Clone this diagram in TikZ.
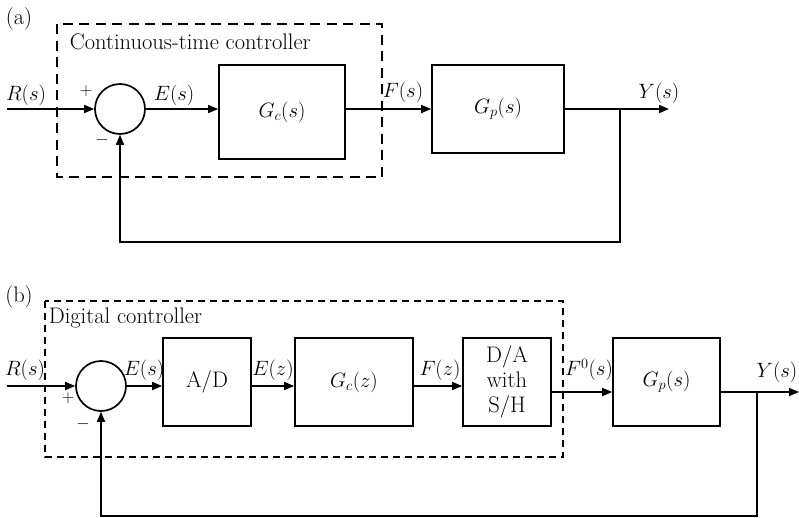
\documentclass[tikz,border=0pt]{standalone}
\usetikzlibrary{arrows.meta}
\begin{document}
\begin{tikzpicture}[x=1pt,y=-1pt,
  line width=1.7pt,
  >={Triangle[length=10pt,width=8pt]},
  every node/.style={font=\fontsize{20}{25}\selectfont, inner sep=0pt},
  txt/.style={font=\fontsize{22.5}{25}\selectfont},
  blk/.style={draw, line width=1.7pt, inner sep=0pt},
  sumc/.style={draw, circle, minimum size=50pt, inner sep=0pt},
  sgn/.style={font=\fontsize{16}{18}\selectfont},
  dashboxA/.style={draw, line width=1.9pt, dash pattern=on 10pt off 6.5pt},
  dashboxB/.style={draw, line width=1.6pt, dash pattern=on 7pt off 5pt},
  conn/.style={->}
]
\useasboundingbox (0,0) rectangle (799,517);

% ---------------- (a) ----------------
\node[txt] (tagA) at (19,19) {(a)};
\draw[dashboxA] (57,24) rectangle (382,177);
\node[txt, anchor=west] (ctA) at (69,42) {Continuous-time controller};

\coordinate (ra) at (7,109);
\node[sumc] (sa) at (120,109) {};
\node[blk, minimum width=126pt, minimum height=94pt] (gca) at (282,112) {$G_c(s)$};
\node[blk, minimum width=132pt, minimum height=88pt] (gpa) at (498,109) {$G_p(s)$};
\coordinate (ba) at (620,109);
\coordinate (ya) at (669,109);
\coordinate (fa) at (620,242);

\draw[conn] (ra) -- (sa.west);
\draw[conn] (sa.east) -- (sa.east -| gca.west);
\draw[conn] (gca.east |- sa.east) -- (gpa.west);
\draw[conn] (gpa.east) -- (ya);
\draw[conn] (ba) -- (fa) -| (sa.south);

\node (lRa) at (26,95) {$R(s)$};
\node[sgn] (pa) at (86,91) {$+$};
\node[sgn] (ma) at (102,140) {$-$};
\node (lEa) at (174,95) {$E(s)$};
\node (lFa) at (403,92) {$F(s)$};
\node (lYa) at (659,93) {$Y(s)$};

% ---------------- (b) ----------------
\node[txt] (tagB) at (19,297) {(b)};
\draw[dashboxB] (45,301) rectangle (563,457);
\node[txt, anchor=west] (ctB) at (48,318) {Digital controller};

\coordinate (rb) at (7,386);
\node[sumc] (sb) at (101,386) {};
\node[blk, txt, minimum width=88pt, minimum height=88pt] (ad) at (207,382) {A/D};
\node[blk, minimum width=118pt, minimum height=88pt] (gcb) at (354,382) {$G_c(z)$};
\node[blk, txt, minimum width=88pt, minimum height=88pt, align=center] (da) at (507,382) {D/A\\with\\S/H};
\node[blk, minimum width=107pt, minimum height=88pt] (gpb) at (666.5,382) {$G_p(s)$};
\coordinate (dao) at (551,392);
\coordinate (bb) at (757,392);
\coordinate (yb) at (799,392);
\coordinate (fb) at (757,516);

\draw[conn] (rb) -- (sb.west);
\draw[conn] (sb.east) -- (sb.east -| ad.west);
\draw[conn] (ad.east |- sb.east) -- (gcb.west |- sb.east);
\draw[conn] (gcb.east |- sb.east) -- (da.west |- sb.east);
\draw[conn] (dao) -- (dao -| gpb.west);
\draw[conn] (gpb.east |- dao) -- (yb);
\draw[conn] (bb) -- (fb) -| (sb.south);

\node (lRb) at (25,370) {$R(s)$};
\node[sgn] (pb) at (68,398) {$+$};
\node[sgn] (mb) at (83,424) {$-$};
\node (lEb) at (144,370) {$E(s)$};
\node (lEz) at (273,370) {$E(z)$};
\node (lFz) at (440,370) {$F(z)$};
\node (lF0) at (589,370) {$F^0(s)$};
\node (lYb) at (777,372) {$Y(s)$};
\end{tikzpicture}
\end{document}
